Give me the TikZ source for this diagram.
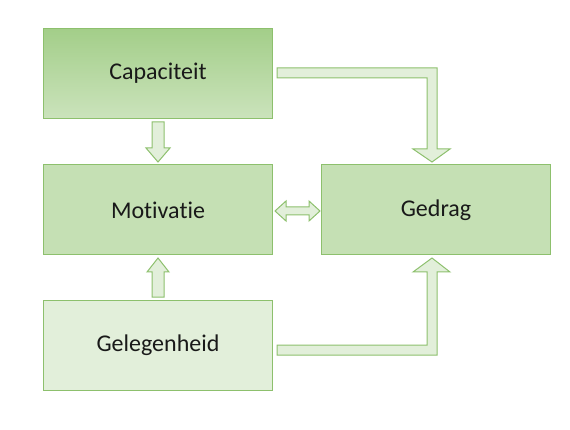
\documentclass[tikz,border=0pt]{standalone}
\usepackage{fontspec}
\setmainfont{Carlito}[Ligatures=NoCommon]
\usepackage{tikz}

\definecolor{rand}{RGB}{141,192,109}
\definecolor{donker}{RGB}{163,206,137}
\definecolor{midden}{RGB}{197,224,180}
\definecolor{licht}{RGB}{226,239,218}
\definecolor{tekst}{RGB}{25,25,25}

\tikzset{
  blok/.style={draw=rand,line width=1pt,minimum width=229pt,minimum height=90pt,
    inner sep=0pt,text=tekst,font=\fontsize{24}{28}\selectfont},
  pijl/.style={draw=rand,fill=licht,line width=1pt,line join=miter}
}

\begin{document}
\begin{tikzpicture}[x=1pt,y=-1pt]
\useasboundingbox (0,0) rectangle (570,430);

\node[blok,top color=donker,bottom color=midden!80!licht] (cap) at (158,73.5) {Capaciteit};
\node[blok,fill=midden] (mot) at (158,210) {Motivatie};
\node[blok,fill=midden] (ged) at (436,210) {Gedrag};
\node[blok,fill=licht] (gel) at (158,345.5) {Gelegenheid};

% capaciteit -> motivatie
\draw[pijl] (152,122)--(164,122)--(164,148)--(170,148)--(158,162)--(146,148)--(152,148)--cycle;
% gelegenheid -> motivatie
\draw[pijl] (152,297)--(164,297)--(164,272)--(169,272)--(158,258)--(147,272)--(152,272)--cycle;
% capaciteit -> gedrag
\draw[pijl] (277,68)--(437,68)--(437,149)--(450,149)--(432,162)--(413,149)--(427,149)--(427,78)--(277,78)--cycle;
% gelegenheid -> gedrag
\draw[pijl] (277,355)--(437,355)--(437,272)--(450,272)--(432,258)--(413,272)--(427,272)--(427,345)--(277,345)--cycle;
% motivatie <-> gedrag
\draw[pijl] (275,211)--(286,201)--(286,207)--(309,207)--(309,201)--(320,211)--(309,221)--(309,215)--(286,215)--(286,221)--cycle;
\end{tikzpicture}
\end{document}
